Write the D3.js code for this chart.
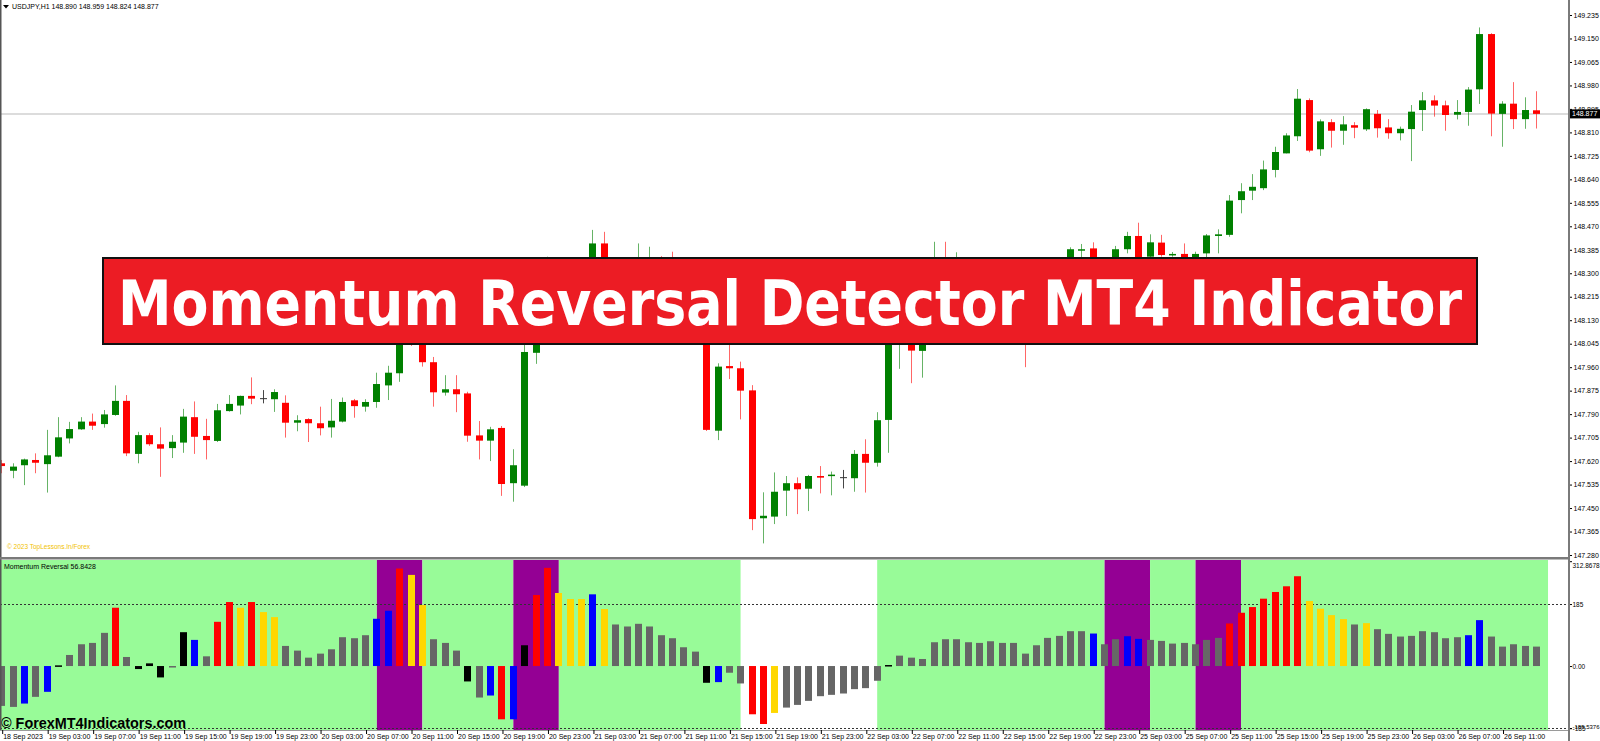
<!DOCTYPE html>
<html><head><meta charset="utf-8">
<script src="https://cdn.jsdelivr.net/npm/d3@7"></script>
<style>html,body{margin:0;padding:0;background:#fff;overflow:hidden}svg{display:block}</style>
</head><body>
<svg id="chart" width="1600" height="741"></svg>
<script>
// ---------- DATA (USDJPY H1, 136 bars from 18 Sep 23:00) ----------
const openP = [
147.612,147.585,147.605,147.624,147.609,147.636,147.702,147.735,147.763,147.754,
147.787,147.838,147.646,147.714,147.681,147.667,147.687,147.779,147.711,147.693,
147.801,147.821,147.856,147.846,147.844,147.831,147.759,147.772,147.757,147.742,
147.763,147.840,147.817,147.834,147.894,147.938,148.113,148.066,147.978,147.868,
147.880,147.865,147.713,147.694,147.740,147.540,147.531,148.012,148.131,148.276,
148.312,148.258,148.341,148.408,148.319,148.268,148.312,148.326,148.341,148.294,
148.239,148.203,148.160,147.730,147.964,147.956,147.876,147.413,147.419,147.513,
147.540,147.520,147.566,147.566,147.560,147.558,147.646,147.614,147.769,148.076,
148.160,148.019,148.203,148.341,148.276,148.319,148.258,148.203,148.232,148.185,
148.218,148.167,148.239,148.290,148.337,148.384,148.390,148.341,148.334,148.387,
148.435,148.360,148.411,148.367,148.370,148.358,148.372,148.435,148.439,148.565,
148.599,148.608,148.674,148.734,148.796,148.927,148.749,148.847,148.816,148.836,
148.821,148.877,148.828,148.807,148.822,148.891,148.926,148.908,148.874,148.884,
148.966,149.166,148.877,148.914,148.858,148.890];
const highP = [
147.624,147.612,147.629,147.648,147.733,147.779,147.762,147.779,147.792,147.805,
147.894,147.859,147.726,147.721,147.742,147.714,147.809,147.836,147.773,147.827,
147.859,147.857,147.923,147.877,147.880,147.858,147.786,147.775,147.817,147.845,
147.850,147.845,147.844,147.940,147.965,148.076,148.138,148.076,147.997,147.931,
147.931,147.871,147.765,147.744,147.747,147.663,148.058,148.160,148.360,148.341,
148.330,148.352,148.457,148.450,148.337,148.334,148.408,148.396,148.362,148.378,
148.276,148.225,148.181,147.974,148.050,147.980,147.895,147.507,147.579,147.566,
147.561,147.570,147.602,147.582,147.588,147.660,147.699,147.797,148.102,148.203,
148.185,148.239,148.414,148.414,148.376,148.341,148.276,148.261,148.250,148.243,
148.236,148.258,148.312,148.352,148.394,148.406,148.412,148.352,148.399,148.450,
148.483,148.441,148.439,148.377,148.408,148.378,148.442,148.459,148.583,148.626,
148.659,148.708,148.758,148.807,148.967,148.933,148.857,148.858,148.869,148.847,
148.897,148.891,148.858,148.831,148.909,148.956,148.944,148.925,148.927,148.974,
149.190,149.169,148.923,148.992,148.937,148.959];
const lowP = [
147.576,147.558,147.533,147.576,147.506,147.634,147.684,147.733,147.733,147.741,
147.784,147.638,147.612,147.675,147.563,147.631,147.650,147.646,147.626,147.689,
147.799,147.789,147.826,147.829,147.798,147.705,147.728,147.689,147.713,147.705,
147.760,147.777,147.799,147.813,147.841,147.907,148.037,147.962,147.817,147.857,
147.797,147.690,147.626,147.620,147.494,147.473,147.526,147.972,148.113,148.239,
148.221,148.239,148.326,148.305,148.232,148.247,148.290,148.305,148.268,148.218,
148.167,148.131,147.729,147.696,147.917,147.771,147.370,147.322,147.392,147.421,
147.428,147.439,147.503,147.496,147.521,147.509,147.506,147.600,147.650,147.954,
147.902,147.922,148.185,148.254,148.247,148.221,148.160,148.181,148.145,148.160,
147.960,148.145,148.218,148.272,148.323,148.355,148.319,148.305,148.312,148.372,
148.319,148.341,148.360,148.360,148.330,148.341,148.355,148.372,148.432,148.517,
148.565,148.601,148.647,148.734,148.779,148.738,148.725,148.755,148.765,148.789,
148.815,148.791,148.787,148.781,148.706,148.815,148.867,148.816,148.857,148.834,
148.913,148.796,148.758,148.822,148.823,148.824];
const closeP = [
147.602,147.600,147.626,147.614,147.641,147.706,147.736,147.763,147.748,147.789,
147.838,147.648,147.714,147.681,147.665,147.690,147.781,147.708,147.696,147.804,
147.827,147.856,147.846,147.846,147.870,147.759,147.768,147.757,147.739,147.766,
147.834,147.819,147.834,147.899,147.940,148.058,148.066,147.978,147.869,147.880,
147.862,147.712,147.694,147.735,147.537,147.605,148.015,148.131,148.276,148.312,
148.258,148.341,148.408,148.319,148.268,148.312,148.341,148.348,148.294,148.239,
148.203,148.160,147.733,147.962,147.956,147.875,147.410,147.422,147.509,147.540,
147.518,147.566,147.560,147.571,147.560,147.646,147.614,147.768,148.076,148.167,
148.020,148.203,148.341,148.276,148.319,148.258,148.203,148.232,148.185,148.218,
148.167,148.239,148.290,148.337,148.387,148.387,148.341,148.326,148.387,148.435,
148.341,148.412,148.366,148.370,148.354,148.370,148.437,148.441,148.563,148.597,
148.613,148.676,148.739,148.799,148.932,148.744,148.850,148.816,148.839,148.827,
148.894,148.825,148.807,148.823,148.885,148.926,148.907,148.873,148.884,148.965,
149.166,148.878,148.914,148.858,148.891,148.877];

const momentum = [
-119,-122,-112,-92,-77,2,33,65,69,99,
174,27,-9,8,-34,-3,101,78,29,132,
191,174,191,161,146,60,46,25,37,50,
86,83,92,141,165,291,272,182,80,69,
46,-46,-94,-88,-159,-159,62,212,293,218,
200,200,214,170,124,118,126,118,92,83,
56,43,-50,-48,-20,-52,-144,-173,-140,-124,
-116,-104,-90,-86,-82,-69,-66,-44,3,31,
25,21,71,80,80,71,69,74,69,69,
37,62,84,90,104,104,97,65,80,89,
81,78,75,67,69,65,78,84,127,159,
176,201,221,238,268,194,171,152,140,124,
128,110,96,88,90,104,101,83,86,92,
137,88,58,65,60,58];
const momentumColor = [
'G','G','B','G','B','K','G','G','G','G',
'R','G','K','K','K','G','K','B','G','R',
'R','Y','R','Y','Y','G','G','G','G','G',
'G','G','G','B','B','R','Y','Y','G','G',
'G','K','G','B','R','B','K','R','R','Y',
'Y','Y','B','Y','G','G','G','G','G','G',
'G','G','K','B','G','G','R','R','Y','G',
'G','G','G','G','G','G','G','G','K','G',
'G','G','G','G','G','G','G','G','G','G',
'G','G','G','G','G','G','B','G','G','B',
'B','G','G','G','G','G','G','G','R','R',
'R','R','R','R','R','Y','Y','Y','Y','G',
'Y','G','G','G','G','G','G','G','G','B',
'B','G','G','G','G','G'];

const zoneFrom  = [0, 33, 37, 45, 49, 65, 77, 97, 101, 105, 109];
const zoneTo    = [33, 37, 45, 49, 65, 77, 97, 101, 105, 109, 136];
const zoneType  = ['trend','reversal','trend','reversal','trend','none','trend','reversal','trend','reversal','trend'];

const priceTicks = ["149.235","149.150","149.065","148.980","148.895","148.810","148.725","148.640",
  "148.555","148.470","148.385","148.300","148.215","148.130","148.045","147.960","147.875",
  "147.790","147.705","147.620","147.535","147.450","147.365","147.280"];
const momTicks = [312.8678, 185, 0, -185, -185.5376];
const momTickLabels = ["312.8678","185","0.00","-185","-185.5376"];
const momLevels = [185, -185];
const xTickIndex = [0,4,8,12,16,20,24,28,32,36,40,44,48,52,56,60,64,68,72,76,80,84,88,92,96,100,104,108,112,116,120,124,128,132];
const xTickLabels = ["18 Sep 2023","19 Sep 03:00","19 Sep 07:00","19 Sep 11:00","19 Sep 15:00","19 Sep 19:00",
  "19 Sep 23:00","20 Sep 03:00","20 Sep 07:00","20 Sep 11:00","20 Sep 15:00","20 Sep 19:00","20 Sep 23:00",
  "21 Sep 03:00","21 Sep 07:00","21 Sep 11:00","21 Sep 15:00","21 Sep 19:00","21 Sep 23:00","22 Sep 03:00",
  "22 Sep 07:00","22 Sep 11:00","22 Sep 15:00","22 Sep 19:00","22 Sep 23:00","25 Sep 03:00","25 Sep 07:00",
  "25 Sep 11:00","25 Sep 15:00","25 Sep 19:00","25 Sep 23:00","26 Sep 03:00","26 Sep 07:00","26 Sep 11:00"];
const headerText = "USDJPY,H1  148.890 148.959 148.824 148.877";
const indicatorTitle = "Momentum Reversal 56.8428";
const bannerText = "Momentum Reversal Detector MT4 Indicator";

// ---------- LAYOUT ----------
const AX = 1569;             // price axis x
const PRICE_BOTTOM = 557, IND_TOP = 560, IND_BOTTOM = 730;
const FONT = "'Liberation Sans', Arial, sans-serif";
const colorMap = {G:'#666666', R:'#ff0000', Y:'#ffd700', B:'#0000ff', K:'#000000'};
const zoneColor = {trend:'#98fb98', reversal:'#940094', none:'#ffffff'};

const svg = d3.select('#chart');
const n = closeP.length;
const x  = d3.scaleLinear().domain([0, n-1]).range([1.7, 1536.65]);
const yP = d3.scaleLinear().domain([147.280, 149.235]).range([555, 15]);
const yM = d3.scaleLinear().domain([-185.5376, 312.8678]).range([728.2, 561.2]);
const BW = 7;
const bx = i => Math.round(x(i) - BW/2);

svg.append('rect').attr('width',1600).attr('height',741).attr('fill','#fff');

// ---------- PRICE PANEL ----------
const price = svg.append('g');
price.append('line').attr('x1',0).attr('x2',AX).attr('y1',yP(closeP[n-1])).attr('y2',yP(closeP[n-1]))
  .attr('stroke','#d0d0d0').attr('stroke-width',1.5);

const idx = d3.range(n);
const cg = price.append('g');
idx.forEach(i => {
  const o=openP[i], c=closeP[i], h=highP[i], l=lowP[i];
  const cx = bx(i) + BW/2;
  const doji = o === c;
  const col = doji ? '#333333' : (c > o ? '#008000' : '#ff0000');
  cg.append('line').attr('x1',cx).attr('x2',cx).attr('y1',yP(h)).attr('y2',yP(l))
    .attr('stroke',col).attr('stroke-width',1).attr('stroke-opacity',doji?0.9:0.6);
  if (doji) {
    cg.append('line').attr('x1',bx(i)).attr('x2',bx(i)+BW).attr('y1',yP(o)).attr('y2',yP(o))
      .attr('stroke',col).attr('stroke-width',1);
  } else {
    const y0 = yP(Math.max(o,c)), y1 = yP(Math.min(o,c));
    cg.append('rect').attr('x',bx(i)).attr('y',y0).attr('width',BW).attr('height',Math.max(1.5,y1-y0))
      .attr('fill',col);
  }
});

// header
price.append('path').attr('d','M3,5 L9,5 L6,8.5 Z').attr('fill','#000');
price.append('text').attr('x',12).attr('y',9).attr('font-family',FONT).attr('font-size',7)
  .attr('fill','#000').text(headerText);
// watermark
price.append('text').attr('x',7).attr('y',548.5).attr('font-family',FONT).attr('font-size',6.5)
  .attr('fill','#f2c200').text('© 2023 TopLessons.In/Forex');

// banner
const banner = svg.append('g');
banner.append('rect').attr('x',103).attr('y',258).attr('width',1374).attr('height',86)
  .attr('fill','#ec1c24').attr('stroke','#111').attr('stroke-width',2);
banner.append('text').attr('x',790).attr('y',325).attr('text-anchor','middle')
  .attr('font-family',"'DejaVu Sans Condensed', 'DejaVu Sans', sans-serif").attr('font-stretch','condensed')
  .attr('font-weight','bold')
  .attr('font-size',62).attr('fill','#fff')
  .attr('textLength',1344).attr('lengthAdjust','spacingAndGlyphs').text(bannerText);

// ---------- INDICATOR PANEL ----------
const ind = svg.append('g');
zoneFrom.forEach((f,k) => {
  const x0 = f === 0 ? 0 : x(zoneFrom[k]);
  const x1 = x(zoneTo[k]);
  ind.append('rect').attr('x',x0).attr('y',IND_TOP).attr('width',x1-x0).attr('height',IND_BOTTOM-IND_TOP)
    .attr('fill',zoneColor[zoneType[k]]);
});
momLevels.forEach(v => {
  ind.append('line').attr('x1',0).attr('x2',AX).attr('y1',Math.round(yM(v))+0.5).attr('y2',Math.round(yM(v))+0.5)
    .attr('stroke','#333').attr('stroke-width',1).attr('stroke-dasharray','2,2');
});
ind.selectAll('rect.bar').data(idx).join('rect').attr('class','bar')
  .attr('x',i=>bx(i))
  .attr('y',i=>yM(Math.max(momentum[i],0)))
  .attr('width',BW)
  .attr('height',i=>Math.max(1.5, Math.abs(yM(momentum[i])-yM(0))))
  .attr('fill',i=>colorMap[momentumColor[i]]);
ind.append('text').attr('x',4).attr('y',569).attr('font-family',FONT).attr('font-size',7)
  .attr('fill','#000').text(indicatorTitle);
// copyright
ind.append('text').attr('x',1).attr('y',728).attr('font-family',FONT).attr('font-weight','bold')
  .attr('font-size',15).attr('fill','#000').attr('textLength',185).attr('lengthAdjust','spacingAndGlyphs')
  .text('© ForexMT4Indicators.com');

// ---------- FRAMES ----------
svg.append('rect').attr('x',0).attr('y',0).attr('width',1.5).attr('height',IND_BOTTOM).attr('fill','#555');
svg.append('rect').attr('x',0).attr('y',PRICE_BOTTOM).attr('width',AX+1).attr('height',2.5).attr('fill','#7a7a7a');
svg.append('line').attr('x1',0).attr('x2',AX).attr('y1',IND_BOTTOM+0.5).attr('y2',IND_BOTTOM+0.5)
  .attr('stroke','#9a9a9a').attr('stroke-width',1);
svg.append('rect').attr('x',AX-1).attr('y',0).attr('width',2).attr('height',741).attr('fill','#7a7a7a');

// ---------- AXES ----------
function styleAxis(g, fs){
  g.select('.domain').remove();
  g.selectAll('line').attr('stroke','#000');
  g.selectAll('text').attr('font-family',FONT).attr('font-size',fs||7).attr('fill','#000');
}
const pAxis = svg.append('g').attr('transform',`translate(${AX+1},0)`)
  .call(d3.axisRight(yP).tickValues(priceTicks.map(Number)).tickFormat((d,i)=>priceTicks[i])
    .tickSizeInner(2).tickSizeOuter(0).tickPadding(1.5));
styleAxis(pAxis);

const mAxis = svg.append('g').attr('transform',`translate(${AX+1},0)`)
  .call(d3.axisRight(yM).tickValues(momTicks).tickFormat((d,i)=>momTickLabels[i])
    .tickSizeInner(2).tickSizeOuter(0).tickPadding(0.5));
styleAxis(mAxis, 6.5);
mAxis.selectAll('text').filter((d,i)=>i===0).attr('dy','1.0em');
mAxis.selectAll('text').filter((d,i)=>i===4).attr('dy','0.1em').attr('font-size',6);

const xAxis = svg.append('g').attr('transform',`translate(0,${IND_BOTTOM})`)
  .call(d3.axisBottom(x).tickValues(xTickIndex).tickFormat((d,i)=>xTickLabels[i])
    .tickSizeInner(4).tickSizeOuter(0).tickPadding(0));
styleAxis(xAxis);
xAxis.selectAll('line').attr('transform','translate(0.5,0)');
xAxis.selectAll('text').attr('text-anchor','start').attr('x',1);

// current price box
const yb = yP(closeP[n-1]);
svg.append('rect').attr('x',AX+1).attr('y',yb-4.5).attr('width',31).attr('height',9).attr('fill','#000');
svg.append('text').attr('x',AX+3).attr('y',yb+2.5).attr('font-family',FONT).attr('font-size',7)
  .attr('fill','#fff').text(d3.format('.3f')(closeP[n-1]));
</script>
</body></html>
